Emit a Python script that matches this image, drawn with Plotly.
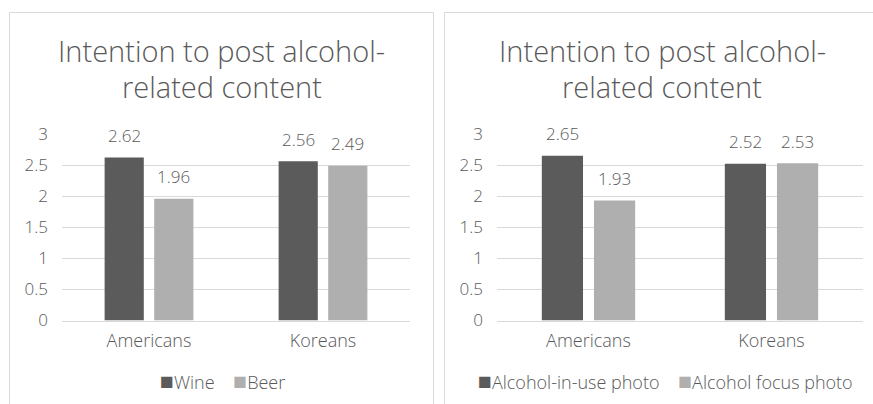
import plotly.graph_objects as go

categories = ["Americans", "Koreans"]
left_names = ["Wine", "Beer"]
left_values = [[2.62, 2.56], [1.96, 2.49]]
right_names = ["Alcohol-in-use photo", "Alcohol focus photo"]
right_values = [[2.65, 2.52], [1.93, 2.53]]
title_lines = ["Intention to post alcohol-", "related content"]
y_ticks = [0, 0.5, 1, 1.5, 2, 2.5, 3]

W, H = 873, 404
FONT = "Open Sans"
TXT = "#595959"
GRID = "#d9d9d9"
COLORS = ["#5b5b5b", "#afafaf"]
BARGAP = 0.43
GROUPGAP = 0.21


def px_x(p):
    return p / W


def px_y(p):
    return (H - p) / H


fig = go.Figure()

panels = [
    dict(names=left_names, values=left_values, xa="x", ya="y", cx=221.5, lx=222.5),
    dict(names=right_names, values=right_values, xa="x2", ya="y2", cx=662, lx=665),
]

slot = (1 - BARGAP) / 2
for p in panels:
    for i, (name, vals) in enumerate(zip(p["names"], p["values"])):
        fig.add_trace(go.Bar(
            x=categories, y=vals, name=name, marker_color=COLORS[i],
            marker_line_width=0, xaxis=p["xa"], yaxis=p["ya"], showlegend=False,
        ))
        off = (i - 0.5) * slot
        for j, v in enumerate(vals):
            fig.add_annotation(
                x=j + off, y=v, xref=p["xa"], yref=p["ya"], text=f"{v:.2f}",
                showarrow=False, yanchor="middle", yshift=22,
                font=dict(family=FONT, size=17, color=TXT, weight=300),
            )
    for k, line in enumerate(title_lines):
        fig.add_annotation(
            x=px_x(p["cx"]), y=px_y(50 + 37 * k), xref="paper", yref="paper",
            text=line, showarrow=False, xanchor="center", yanchor="middle",
            font=dict(family=FONT, size=29, color=TXT, weight=300),
        )
    # legend (swatch + label as text)
    entries = [
        f'<span style="color:{COLORS[i]};font-size:23px">■</span>{name}'
        for i, name in enumerate(p["names"])
    ]
    fig.add_annotation(
        x=px_x(p["lx"]), y=px_y(380), xref="paper", yref="paper",
        text="&nbsp;&nbsp;&nbsp;&nbsp;".join(entries), showarrow=False,
        xanchor="center", yanchor="middle",
        font=dict(family=FONT, size=18, color=TXT, weight=300),
    )

axis_common = dict(automargin=False, ticks="", linecolor=GRID)
ydom = (px_y(320.5), px_y(134))
fig.update_layout(
    width=W, height=H, margin=dict(l=0, r=0, t=0, b=0, autoexpand=False),
    paper_bgcolor="white", plot_bgcolor="white",
    barmode="group", bargap=BARGAP, bargroupgap=GROUPGAP,
    showlegend=False,
    xaxis=dict(domain=[px_x(62), px_x(410)], anchor="y", showline=True,
               showgrid=False, ticklabelstandoff=4,
               tickfont=dict(family=FONT, size=18, color=TXT, weight=300), **axis_common),
    yaxis=dict(domain=list(ydom), anchor="x", range=[0, 3], tickvals=y_ticks,
               showgrid=True, gridcolor=GRID, zeroline=False, showline=False,
               ticklabelstandoff=13,
               tickfont=dict(family=FONT, size=17, color=TXT, weight=300), **axis_common),
    xaxis2=dict(domain=[px_x(497), px_x(863)], anchor="y2", showline=True,
                showgrid=False, ticklabelstandoff=4,
                tickfont=dict(family=FONT, size=18, color=TXT, weight=300), **axis_common),
    yaxis2=dict(domain=list(ydom), anchor="x2", range=[0, 3], tickvals=y_ticks,
                showgrid=True, gridcolor=GRID, zeroline=False, showline=False,
                ticklabelstandoff=13,
                tickfont=dict(family=FONT, size=17, color=TXT, weight=300), **axis_common),
)

# panel borders
fig.add_shape(type="rect", xref="paper", yref="paper",
              x0=px_x(9.5), x1=px_x(433.5), y0=-0.05, y1=px_y(12.5),
              line=dict(color=GRID, width=1), fillcolor="rgba(0,0,0,0)", layer="below")
fig.add_shape(type="rect", xref="paper", yref="paper",
              x0=px_x(444.5), x1=1.05, y0=-0.05, y1=px_y(12.5),
              line=dict(color=GRID, width=1), fillcolor="rgba(0,0,0,0)", layer="below")

fig.write_html("out.html")
